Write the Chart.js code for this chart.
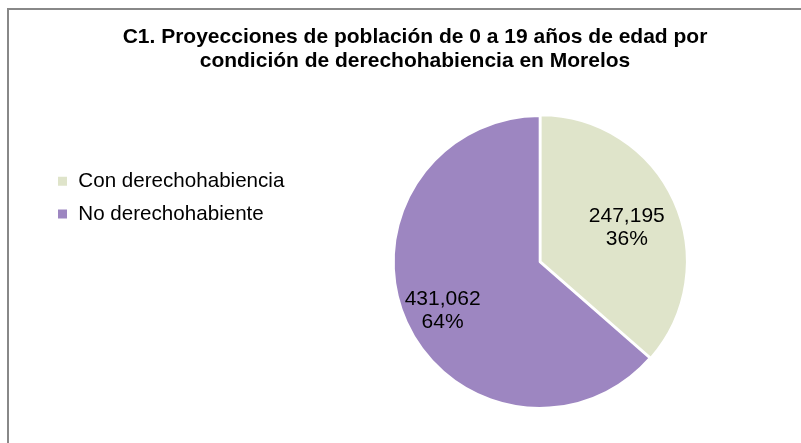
<!DOCTYPE html>
<html lang="es">
<head>
  <meta charset="UTF-8">
  <title>C1. Proyecciones de población</title>
  <style>
    body { margin: 0; background: #fff; }
    #wrap { position: relative; width: 801px; height: 443px; overflow: hidden; }
    #frame { position: absolute; left: 7px; top: 8px; width: 820px; height: 460px;
             border-top: 2px solid #888; border-left: 2px solid #888; }
    #myChart { position: absolute; left: 0; top: 0; }
  </style>
</head>
<body>

<div id="wrap">
  <div id="frame"></div>
  <canvas id="myChart" width="801" height="443"></canvas>
</div>

<script src="https://cdn.jsdelivr.net/npm/chart.js"></script>

<script>
  const categorias = ['Con derechohabiencia', 'No derechohabiente'];
  const poblacion = [247195, 431062];
  const colores = ['#DFE4CA', '#9D86C1'];

  // etiquetas de valor y porcentaje dentro de cada rebanada
  const etiquetasPie = {
    id: 'etiquetasPie',
    afterDatasetsDraw(chart, args, opts) {
      const ctx = chart.ctx;
      const meta = chart.getDatasetMeta(0);
      const datos = chart.data.datasets[0].data;
      const total = datos.reduce((a, b) => a + b, 0);
      ctx.save();
      ctx.font = '21px "Liberation Sans", Arial, sans-serif';
      ctx.fillStyle = '#000';
      ctx.textAlign = 'center';
      ctx.textBaseline = 'middle';
      meta.data.forEach((arc, i) => {
        const p = arc.getProps(['x', 'y', 'startAngle', 'endAngle', 'outerRadius'], true);
        const mid = (p.startAngle + p.endAngle) / 2;
        const r = p.outerRadius * opts.radios[i];
        const x = p.x + Math.cos(mid) * r;
        const y = p.y + Math.sin(mid) * r + opts.bajar;
        const pct = Math.round(datos[i] / total * 100) + '%';
        ctx.fillText(datos[i].toLocaleString('en-US'), x, y - 11.5);
        ctx.fillText(pct, x, y + 11.5);
      });
      ctx.restore();
    }
  };

  const ctx = document.getElementById('myChart').getContext('2d');
  const myChart = new Chart(ctx, {
    type: 'pie',
    data: {
      labels: categorias,
      datasets: [{
        data: poblacion,
        backgroundColor: colores,
        borderColor: '#fff',
        borderWidth: 2,
        offset: [4, 0]
      }]
    },
    options: {
      responsive: false,
      animation: false,
      devicePixelRatio: 1,
      radius: 146,
      layout: { padding: { left: 45, right: 16, top: 0, bottom: 2 } },
      plugins: {
        title: {
          display: true,
          text: ['C1. Proyecciones de población de 0 a 19 años de edad por',
                 'condición de derechohabiencia en Morelos'],
          color: '#000',
          font: { family: '"Liberation Sans", Arial, sans-serif', size: 21, weight: 'bold', lineHeight: 1.14 },
          padding: { top: 25, bottom: 10 }
        },
        legend: {
          position: 'left',
          align: 'start',
          title: { display: true, text: ' ', font: { size: 10, lineHeight: 1 }, padding: { top: 149, bottom: 0 } },
          labels: {
            boxWidth: 11,
            boxHeight: 11,
            padding: 12,
            color: '#000',
            font: { family: '"Liberation Sans", Arial, sans-serif', size: 20.6 }
          }
        },
        tooltip: { enabled: false },
        etiquetasPie: { radios: [0.655, 0.73], bajar: 5 }
      }
    },
    plugins: [etiquetasPie]
  });
</script>
</body>
</html>
